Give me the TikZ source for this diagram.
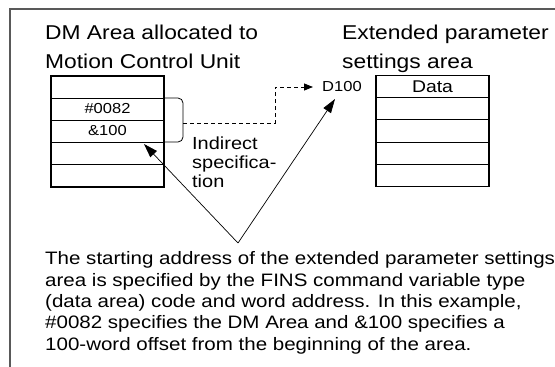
\documentclass[tikz,border=0pt]{standalone}
\usepackage{fontspec}
\setmainfont[FakeStretch=1.14]{Liberation Sans}
\usetikzlibrary{arrows.meta}
\begin{document}
\begin{tikzpicture}[x=1pt,y=-1pt,
  title/.style={anchor=base west, font=\fontsize{20}{29}\selectfont, inner sep=0, align=left},
  cell/.style={font=\fontsize{14.5}{16}\selectfont, inner sep=0},
  bigcell/.style={font=\fontsize{17}{19}\selectfont, inner sep=0},
  body/.style={anchor=base west, font=\fontsize{18}{21.3}\selectfont, inner sep=0, align=left},
  note/.style={anchor=base west, font=\fontsize{17.5}{19}\selectfont, inner sep=0, align=left},
  framel/.style={draw=black!65, line width=1.4pt},
  tbl/.style={draw, line width=1.3pt, minimum width=113pt, minimum height=111pt, inner sep=0},
  rowline/.style={line width=0.9pt},
  arr/.style={-{Triangle[length=14pt,width=9pt]}, line width=0.7pt},
  dasharr/.style={dashed, dash pattern=on 4pt off 3pt, line width=0.8pt, -{Triangle[length=9pt,width=7pt]}}
]
\useasboundingbox (0,0) rectangle (555,367);
% frame
\coordinate (fbl) at (10,367);
\coordinate (ftl) at (10,9);
\coordinate (ftr) at (555,9);
\draw[framel] (fbl) -- (ftl) -- (ftr);

% titles (anchor at baseline of last line)
\node[title] (t1) at (45,68) {DM Area allocated to\\Motion Control Unit};
\node[title] (t2) at (342,68) {Extended parameter\\settings area};

% left table
\node[tbl] (lt) at (107.5,131.5) {};
\foreach \y in {98,120,142,164}
  \draw[rowline] (lt.west |- 0,\y) -- (lt.east |- 0,\y);
\node[cell] (c1) at (107.5,109) {\#0082};
\node[cell] (c2) at (107.5,131) {\&100};

% right table
\node[tbl] (rt) at (432.5,131) {};
\foreach \y in {97,119,142,164}
  \draw[rowline] (rt.west |- 0,\y) -- (rt.east |- 0,\y);
\node[bigcell] (d1) at (432.5,87) {Data};

% bracket
\coordinate (b1) at (164,98);
\coordinate (b2) at (183,98);
\coordinate (b3) at (183,142);
\coordinate (b4) at (164,142);
\draw[line width=0.8pt, rounded corners=5pt] (b1) -- (b2) -- (b3) -- (b4);

% dashed arrow to D100
\node[cell, anchor=west] (d100) at (322,87) {D100};
\coordinate (m) at (183,123);
\coordinate (k1) at (275,123);
\coordinate (k2) at (275,87);
\draw[dasharr] (m) -- (k1) -- (k2) -- ([xshift=-9pt]d100.west);

% indirect specification
\node[note] (ind) at (192,187) {Indirect\\specifica-\\tion};

% V arrows
\coordinate (apex) at (238,243);
\coordinate (tipl) at (144,144);
\coordinate (tipr) at (335,99);
\draw[arr] (apex) -- (tipl);
\draw[arr] (apex) -- (tipr);

% paragraph
\node[body] (p) at (45,350) {The starting address of the extended parameter settings\\
area is specified by the FINS command variable type\\
(data area) code and word address. In this example,\\
\#0082 specifies the DM Area and \&100 specifies a\\
100-word offset from the beginning of the area.};
\end{tikzpicture}
\end{document}
